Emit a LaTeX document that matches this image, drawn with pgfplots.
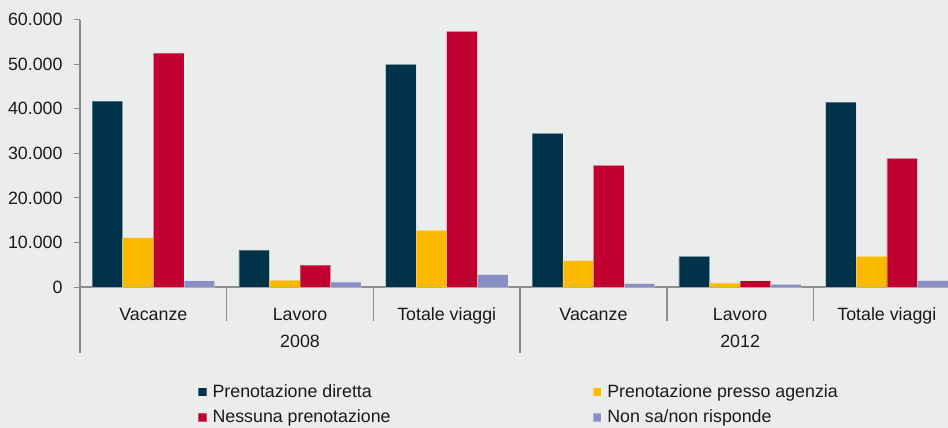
\documentclass[border=0pt]{standalone}
\usepackage{fontspec}
\setmainfont{Liberation Sans}
\usepackage{pgfplots}
\pgfplotsset{compat=1.18}
\definecolor{bg}{RGB}{235,237,237}
\definecolor{cdark}{RGB}{0,51,73}
\definecolor{cyel}{RGB}{251,186,0}
\definecolor{cred}{RGB}{192,0,47}
\definecolor{cpur}{RGB}{136,143,196}
\definecolor{axgray}{RGB}{140,140,140}
\definecolor{txt}{RGB}{26,26,26}
\newcommand{\f}{\fontsize{17.8bp}{21bp}\selectfont}
\begin{document}
\begin{tikzpicture}
\fill[bg] (0,0) rectangle (948bp,-428bp);
\begin{axis}[
  at={(80bp,-287bp)}, anchor=south west,
  scale only axis, width=868bp, height=267.3bp,
  xmin=-0.5, xmax=5.417, ymin=0, ymax=60000,
  ybar=0pt, bar width=30.6bp,
  clip=false,
  axis lines*=left,
  axis line style={axgray, line width=1.5bp, -},
  ytick={0,10000,...,60000},
  scaled y ticks=false,
  /pgf/number format/1000 sep={.},
  /pgf/number format/assume math mode=true,
  y tick label style={font=\f, text=txt, inner sep=0pt, anchor=east, xshift=-11.3bp},
  tick align=outside, major tick length=6bp,
  ytick style={axgray, line width=1bp},
  xtick={0,...,5},
  xticklabels={Vacanze,Lavoro,Totale viaggi,Vacanze,Lavoro,Totale viaggi},
  xtick style={draw=none},
  x tick label style={font=\f, text=txt, inner sep=0pt, anchor=base, yshift=-27.3bp},
  legend columns=2,
  legend cell align=left,
  legend style={at={(0.1359,-0.3648)}, anchor=north west, draw=none, fill=none,
    font=\f, text=txt, inner sep=0pt, outer sep=0pt, row sep=11bp,
    nodes={inner sep=0pt},
    /tikz/every odd column/.append style={column sep=5.5bp},
    /tikz/every even column/.append style={column sep=202bp}},
  legend image code/.code={\fill[#1] (0bp,-4.5bp) rectangle (8.5bp,4bp);},
]
\addplot[fill=cdark, draw=white, draw opacity=0.3, line width=0.6bp] coordinates {(0,41700) (1,8300) (2,50000) (3,34500) (4,6900) (5,41500)};
\addplot[fill=cyel, draw=white, draw opacity=0.3, line width=0.6bp] coordinates {(0,11100) (1,1550) (2,12700) (3,5900) (4,900) (5,6900)};
\addplot[fill=cred, draw=white, draw opacity=0.3, line width=0.6bp] coordinates {(0,52500) (1,4900) (2,57400) (3,27300) (4,1400) (5,28900)};
\addplot[fill=cpur, draw=white, draw opacity=0.3, line width=0.6bp] coordinates {(0,1400) (1,1150) (2,2800) (3,750) (4,600) (5,1450)};
\legend{Prenotazione diretta,Prenotazione presso agenzia,Nessuna prenotazione,Non sa/non risponde}
\draw[axgray, line width=1.5bp] (axis cs:0.5,0) -- ([yshift=-34bp]axis cs:0.5,0);
\draw[axgray, line width=1.5bp] (axis cs:1.5,0) -- ([yshift=-34bp]axis cs:1.5,0);
\draw[axgray, line width=1.5bp] (axis cs:3.5,0) -- ([yshift=-34bp]axis cs:3.5,0);
\draw[axgray, line width=1.5bp] (axis cs:4.5,0) -- ([yshift=-34bp]axis cs:4.5,0);
\draw[axgray, line width=1.5bp] (axis cs:-0.5,0) -- ([yshift=-66bp]axis cs:-0.5,0);
\draw[axgray, line width=1.5bp] (axis cs:2.5,0) -- ([yshift=-66bp]axis cs:2.5,0);
\node[anchor=base, yshift=-60.7bp, font=\f, text=txt, inner sep=0pt] at (axis cs:1,0) {2008};
\node[anchor=base, yshift=-60.7bp, font=\f, text=txt, inner sep=0pt] at (axis cs:4,0) {2012};
\end{axis}
\pgfresetboundingbox
\useasboundingbox (0,0) rectangle (948bp,-428bp);
\end{tikzpicture}
\end{document}
